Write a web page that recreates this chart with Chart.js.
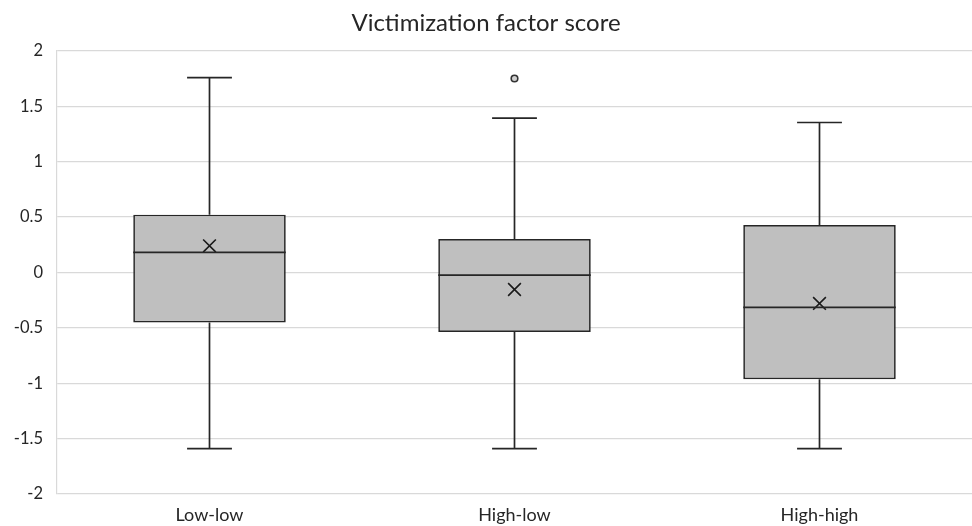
<!DOCTYPE html>
<html>
<head>
<meta charset="utf-8">
<script src="https://cdn.jsdelivr.net/npm/chart.js@4/dist/chart.umd.min.js"></script>
<style>
html,body{margin:0;padding:0;background:#fff;overflow:hidden;}
#wrap{width:972px;height:526px;}
canvas{display:block;}
</style>
</head>
<body>
<div id="wrap"><canvas id="c" width="972" height="526"></canvas></div>
<script>
const categories = ['Low-low', 'High-low', 'High-high'];
const mins = [-1.59, -1.59, -1.59];
const q1s = [-0.452, -0.537, -0.965];
const medians = [0.181, -0.024, -0.316];
const q3s = [0.521, 0.301, 0.428];
const maxs = [1.757, 1.392, 1.353];
const means = [0.24, -0.154, -0.28];
const outlierCats = ['High-low'];
const outlierVals = [1.75];
const yTicks = [-2, -1.5, -1, -0.5, 0, 0.5, 1, 1.5, 2];

const LINE = '#262626';

const boxPlugin = {
  id: 'boxParts',
  afterDatasetsDraw(chart) {
    const ctx = chart.ctx;
    const y = chart.scales.y;
    const meta = chart.getDatasetMeta(0);
    ctx.save();
    ctx.strokeStyle = LINE;
    ctx.lineWidth = 1.7;
    meta.data.forEach((bar, i) => {
      const cx = bar.x;
      const half = bar.width / 2;
      const capHalf = bar.width * 0.147;
      const yMin = y.getPixelForValue(mins[i]);
      const yQ1 = y.getPixelForValue(q1s[i]);
      const yQ3 = y.getPixelForValue(q3s[i]);
      const yMax = y.getPixelForValue(maxs[i]);
      const yMed = y.getPixelForValue(medians[i]);
      ctx.beginPath();
      ctx.moveTo(cx, yQ1); ctx.lineTo(cx, yMin);
      ctx.moveTo(cx - capHalf, yMin); ctx.lineTo(cx + capHalf, yMin);
      ctx.moveTo(cx, yQ3); ctx.lineTo(cx, yMax);
      ctx.moveTo(cx - capHalf, yMax); ctx.lineTo(cx + capHalf, yMax);
      ctx.moveTo(cx - half, yMed); ctx.lineTo(cx + half, yMed);
      ctx.stroke();
    });
    ctx.restore();
  }
};

new Chart(document.getElementById('c'), {
  type: 'bar',
  data: {
    labels: categories,
    datasets: [
      {
        label: 'Box',
        data: q1s.map((q, i) => [q, q3s[i]]),
        backgroundColor: '#bfbfbf',
        borderColor: LINE,
        borderWidth: 1.7,
        borderSkipped: false,
        barPercentage: 0.5,
        categoryPercentage: 1.0,
        order: 2
      },
      {
        type: 'line',
        label: 'Mean',
        data: means,
        showLine: false,
        pointStyle: 'crossRot',
        pointRadius: 9,
        pointBorderColor: '#1a1a1a',
        pointBorderWidth: 1.6,
        pointHoverRadius: 9,
        order: 0
      },
      {
        type: 'line',
        label: 'Outlier',
        data: outlierCats.map((c, i) => ({x: c, y: outlierVals[i]})),
        showLine: false,
        pointStyle: 'circle',
        pointRadius: 3.3,
        pointBackgroundColor: '#d0d0d0',
        pointBorderColor: '#333333',
        pointBorderWidth: 1.6,
        order: 0
      }
    ]
  },
  options: {
    responsive: false,
    animation: false,
    layout: { autoPadding: false, padding: { left: 0, right: 0, top: 0, bottom: 0 } },
    plugins: {
      legend: { display: false },
      tooltip: { enabled: false },
      title: {
        display: true,
        text: 'Victimization factor score',
        color: '#262626',
        font: { family: 'Lato', size: 24, weight: 'normal' },
        padding: { top: 9, bottom: 13 }
      }
    },
    scales: {
      x: {
        grid: { display: false },
        border: { display: false },
        ticks: { color: '#262626', font: { family: 'Lato', size: 18 }, padding: 2 },
        afterFit(s) { s.height = 32; s.paddingLeft = 0; s.paddingRight = 0; }
      },
      y: {
        min: -2,
        max: 2,
        grid: { color: '#d9d9d9', lineWidth: 1.2, drawTicks: false },
        border: { display: true, color: '#d9d9d9', width: 1.2 },
        ticks: {
          color: '#262626',
          font: { family: 'Lato', size: 16.5 },
          padding: 14,
          callback: v => String(v)
        },
        afterBuildTicks(s) { s.ticks = yTicks.map(v => ({ value: v })); },
        afterFit(s) { s.width = 57; }
      }
    }
  },
  plugins: [boxPlugin]
});
</script>
</body>
</html>
